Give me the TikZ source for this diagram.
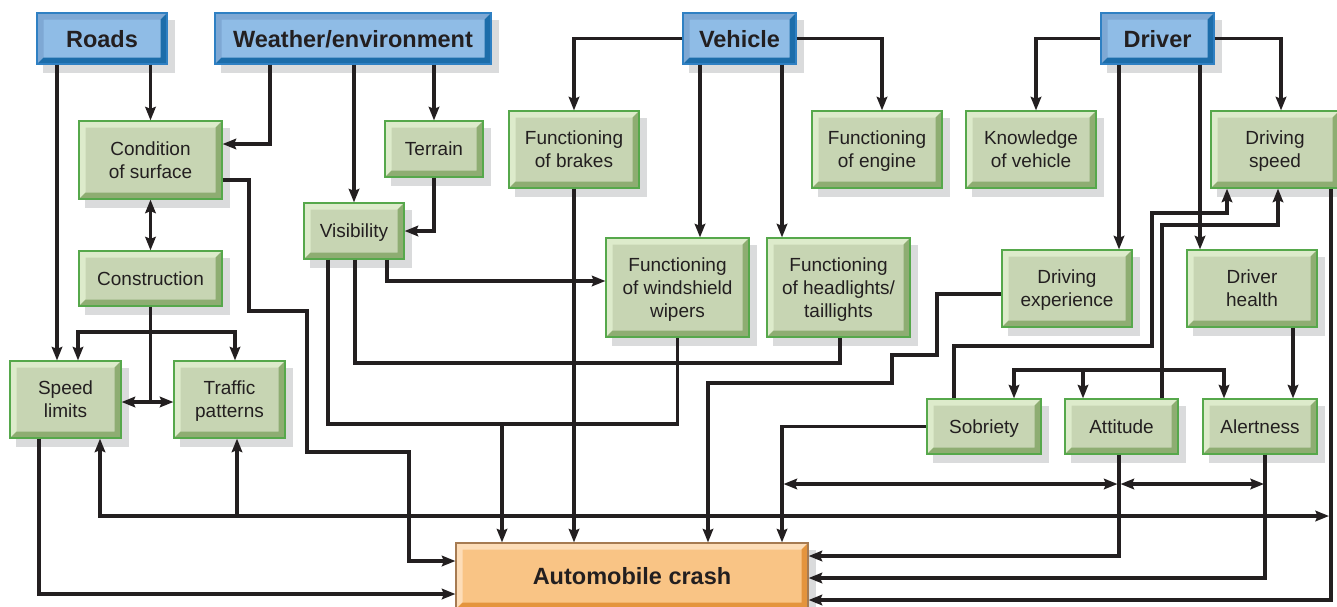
\documentclass[tikz,border=0pt]{standalone}
\usepackage{fontspec}
\setmainfont{Liberation Sans}
\usepackage{tikz}
\usetikzlibrary{arrows.meta,backgrounds}
\usepackage{xcolor}

\definecolor{ink}{HTML}{231F20}
\definecolor{leafface}{HTML}{C7D5B3}
\definecolor{leaflight}{HTML}{DDEBCB}
\definecolor{leafdark}{HTML}{8EAD72}
\definecolor{leafline}{HTML}{56A84B}
\definecolor{rootface}{HTML}{8FBCE6}
\definecolor{rootlight}{HTML}{7EA8D4}
\definecolor{rootdark}{HTML}{1C6DAA}
\definecolor{rootline}{HTML}{2F80C3}
\definecolor{crashface}{HTML}{F9C485}
\definecolor{crashlight}{HTML}{FDDDB8}
\definecolor{crashdark}{HTML}{E4943D}
\definecolor{crashline}{HTML}{A67B52}
\definecolor{shadowgray}{HTML}{DADBDC}

\newlength\bevw \setlength\bevw{6.5pt}
\newcommand\bevel[2]{%
  \fill[#1] (path picture bounding box.north west) -- (path picture bounding box.north east)
    -- ([shift={(-\bevw,-\bevw)}]path picture bounding box.north east)
    -- ([shift={(\bevw,-\bevw)}]path picture bounding box.north west)
    -- ([shift={(\bevw,\bevw)}]path picture bounding box.south west)
    -- (path picture bounding box.south west) -- cycle;
  \fill[#2] (path picture bounding box.south west) -- (path picture bounding box.south east)
    -- (path picture bounding box.north east)
    -- ([shift={(-\bevw,-\bevw)}]path picture bounding box.north east)
    -- ([shift={(-\bevw,\bevw)}]path picture bounding box.south east)
    -- ([shift={(\bevw,\bevw)}]path picture bounding box.south west) -- cycle;}

\tikzset{
  panel/.style={draw, line width=1.2pt, inner sep=0pt, align=center, text=ink, text depth=0pt},
  dims/.style 2 args={minimum width=#1pt, minimum height=#2pt},
  factor/.style={panel, draw=leafline, fill=leafface, path picture={\bevel{leaflight}{leafdark}},
    font=\fontsize{19}{23}\selectfont},
  source/.style={panel, draw=rootline, fill=rootface, path picture={\bevel{rootlight}{rootdark}},
    font=\fontsize{23.5}{28}\selectfont\bfseries, dims={113}{51}},
  outcome/.style={panel, draw=crashline, fill=crashface, path picture={\bevel{crashlight}{crashdark}},
    font=\fontsize{23.5}{28}\selectfont\bfseries},
  tip/.tip={Stealth[length=13.5pt,width=10.5pt,inset=2pt]},
  wire/.style={line width=3.1pt, draw=ink},
  link/.style={wire, -tip},
  twoway/.style={wire, tip-tip},
}

\begin{document}
\begin{tikzpicture}[x=1pt, y=-1pt]
\useasboundingbox (0,0) rectangle (1337,606);

\node[source, dims={130}{51}] (roads) at (102,38.5) {Roads};
\node[source, dims={276}{51}] (weather) at (353,38.5) {Weather/environment};
\node[source] (vehicle) at (739.5,38.5) {Vehicle};
\node[source] (driver) at (1157.5,38.5) {Driver};

\node[factor, dims={143}{78}] (surface) at (150.5,160) {Condition\\of surface};
\node[factor, dims={98}{56}] (terrain) at (434,149) {Terrain};
\node[factor, dims={100}{56}] (visibility) at (354,231) {Visibility};
\node[factor, dims={143}{55}] (construction) at (150.5,278.5) {Construction};
\node[factor, dims={111}{77}] (limits) at (65.5,399.5) {Speed\\limits};
\node[factor, dims={111}{77}] (traffic) at (229.5,399.5) {Traffic\\patterns};
\node[factor, dims={130}{77}] (brakes) at (574,149.5) {Functioning\\of brakes};
\node[factor, dims={130}{77}] (engine) at (877,149.5) {Functioning\\of engine};
\node[factor, dims={130}{77}] (knowledge) at (1031,149.5) {Knowledge\\of vehicle};
\node[factor, dims={128}{77}] (speed) at (1275,149.5) {Driving\\speed};
\node[factor, dims={143}{99}] (wipers) at (677.5,287.5) {Functioning\\of windshield\\wipers};
\node[factor, dims={143}{99}] (lights) at (838.5,287.5) {Functioning\\of headlights/\\taillights};
\node[factor, dims={130}{77}] (experience) at (1067,288.5) {Driving\\experience};
\node[factor, dims={130}{77}] (health) at (1252,288.5) {Driver\\health};
\node[factor, dims={114}{55}] (sobriety) at (984,426.5) {Sobriety};
\node[factor, dims={113}{55}] (attitude) at (1121.5,426.5) {Attitude};
\node[factor, dims={114}{55}] (alertness) at (1260,426.5) {Alertness};
\node[outcome, dims={352}{66}] (crash) at (632,576) {Automobile crash};

\begin{scope}[on background layer]
  \foreach \n in {roads,weather,vehicle,driver,surface,terrain,visibility,construction,limits,traffic,
      brakes,engine,knowledge,speed,wipers,lights,experience,health,sobriety,attitude,alertness,crash}
    \fill[shadowgray] ([shift={(7pt,-8pt)}]\n.south west) rectangle ([shift={(7pt,-8pt)}]\n.north east);
\end{scope}

% roads and weather
\draw[link] (57,0 |- roads.south) -- (57,0 |- limits.north);
\draw[link] (surface.north |- roads.south) -- (surface.north);
\draw[link] (270,0 |- weather.south) |- (surface.east |- 0,144);
\draw[link] (visibility.north |- weather.south) -- (visibility.north);
\draw[link] (terrain.north |- weather.south) -- (terrain.north);
\draw[link] (terrain.south) |- (visibility.east);
\draw[twoway] (surface.south) -- (construction.north);
\draw[wire] (construction.south) -- (150.5,402);
\draw[link] (150.5,332) -| (78,0 |- limits.north);
\draw[link] (150.5,332) -| (235,0 |- traffic.north);
\draw[twoway] (limits.east |- 0,402) -- (traffic.west |- 0,402);
\draw[link] (surface.east |- 0,180) -- (249,180) -- (249,311) -- (307,311) -- (307,452)
  -- (409,452) -- (409,561) -- (crash.west |- 0,561);
\draw[link] (39,0 |- limits.south) |- (crash.west |- 0,594);
\draw[twoway] (100,0 |- limits.south) |- (1329,516);
\draw[link] (237,516) -- (237,0 |- traffic.south);
\draw[wire] (328,0 |- visibility.south) |- (wipers.south |- 0,424) -- (wipers.south);
\draw[link] (502,424) -- (502,0 |- crash.north);
\draw[link] (387,0 |- visibility.south) |- (wipers.west |- 0,281);
\draw[wire] (355,0 |- visibility.south) |- (840,363) -- (840,0 |- lights.south);

% vehicle
\draw[link] (vehicle.west) -| (brakes.north);
\draw[link] (vehicle.east) -| (882,0 |- engine.north);
\draw[link] (700,0 |- vehicle.south) -- (700,0 |- wipers.north);
\draw[link] (782,0 |- vehicle.south) -- (782,0 |- lights.north);
\draw[link] (brakes.south) -- (brakes.south |- crash.north);

% driver
\draw[link] (driver.west) -| (1036,0 |- knowledge.north);
\draw[link] (driver.east) -| (1281,0 |- speed.north);
\draw[link] (1119,0 |- driver.south) -- (1119,0 |- experience.north);
\draw[link] (1200,0 |- driver.south) -- (1200,0 |- health.north);
\draw[link] (experience.west |- 0,294) -- (937,294) -- (937,355) -- (892,355) -- (892,383)
  -- (708,383) -- (708,0 |- crash.north);
\draw[link] (954,0 |- sobriety.north) |- (1152,346) |- (1227,213) -- (1227,0 |- speed.south);
\draw[link] (1162,0 |- attitude.north) |- (1278,225) -- (1278,0 |- speed.south);
\draw[link] (sobriety.west) -| (782,0 |- crash.north);
\draw[link] (1293,0 |- health.south) -- (1293,0 |- alertness.north);
\draw[twoway] (1014,0 |- sobriety.north) |- (1224,370) -- (1224,0 |- alertness.north);
\draw[link] (1083,370) -- (1083,0 |- attitude.north);
\draw[link] (1119,0 |- attitude.south) |- (crash.east |- 0,556);
\draw[link] (1265,0 |- alertness.south) |- (crash.east |- 0,578);
\draw[link] (1331,0 |- speed.south) |- (crash.east |- 0,600);
\draw[twoway] (783.5,484) -- (1117.5,484);
\draw[twoway] (1120.5,484) -- (1264,484);
\end{tikzpicture}
\end{document}
